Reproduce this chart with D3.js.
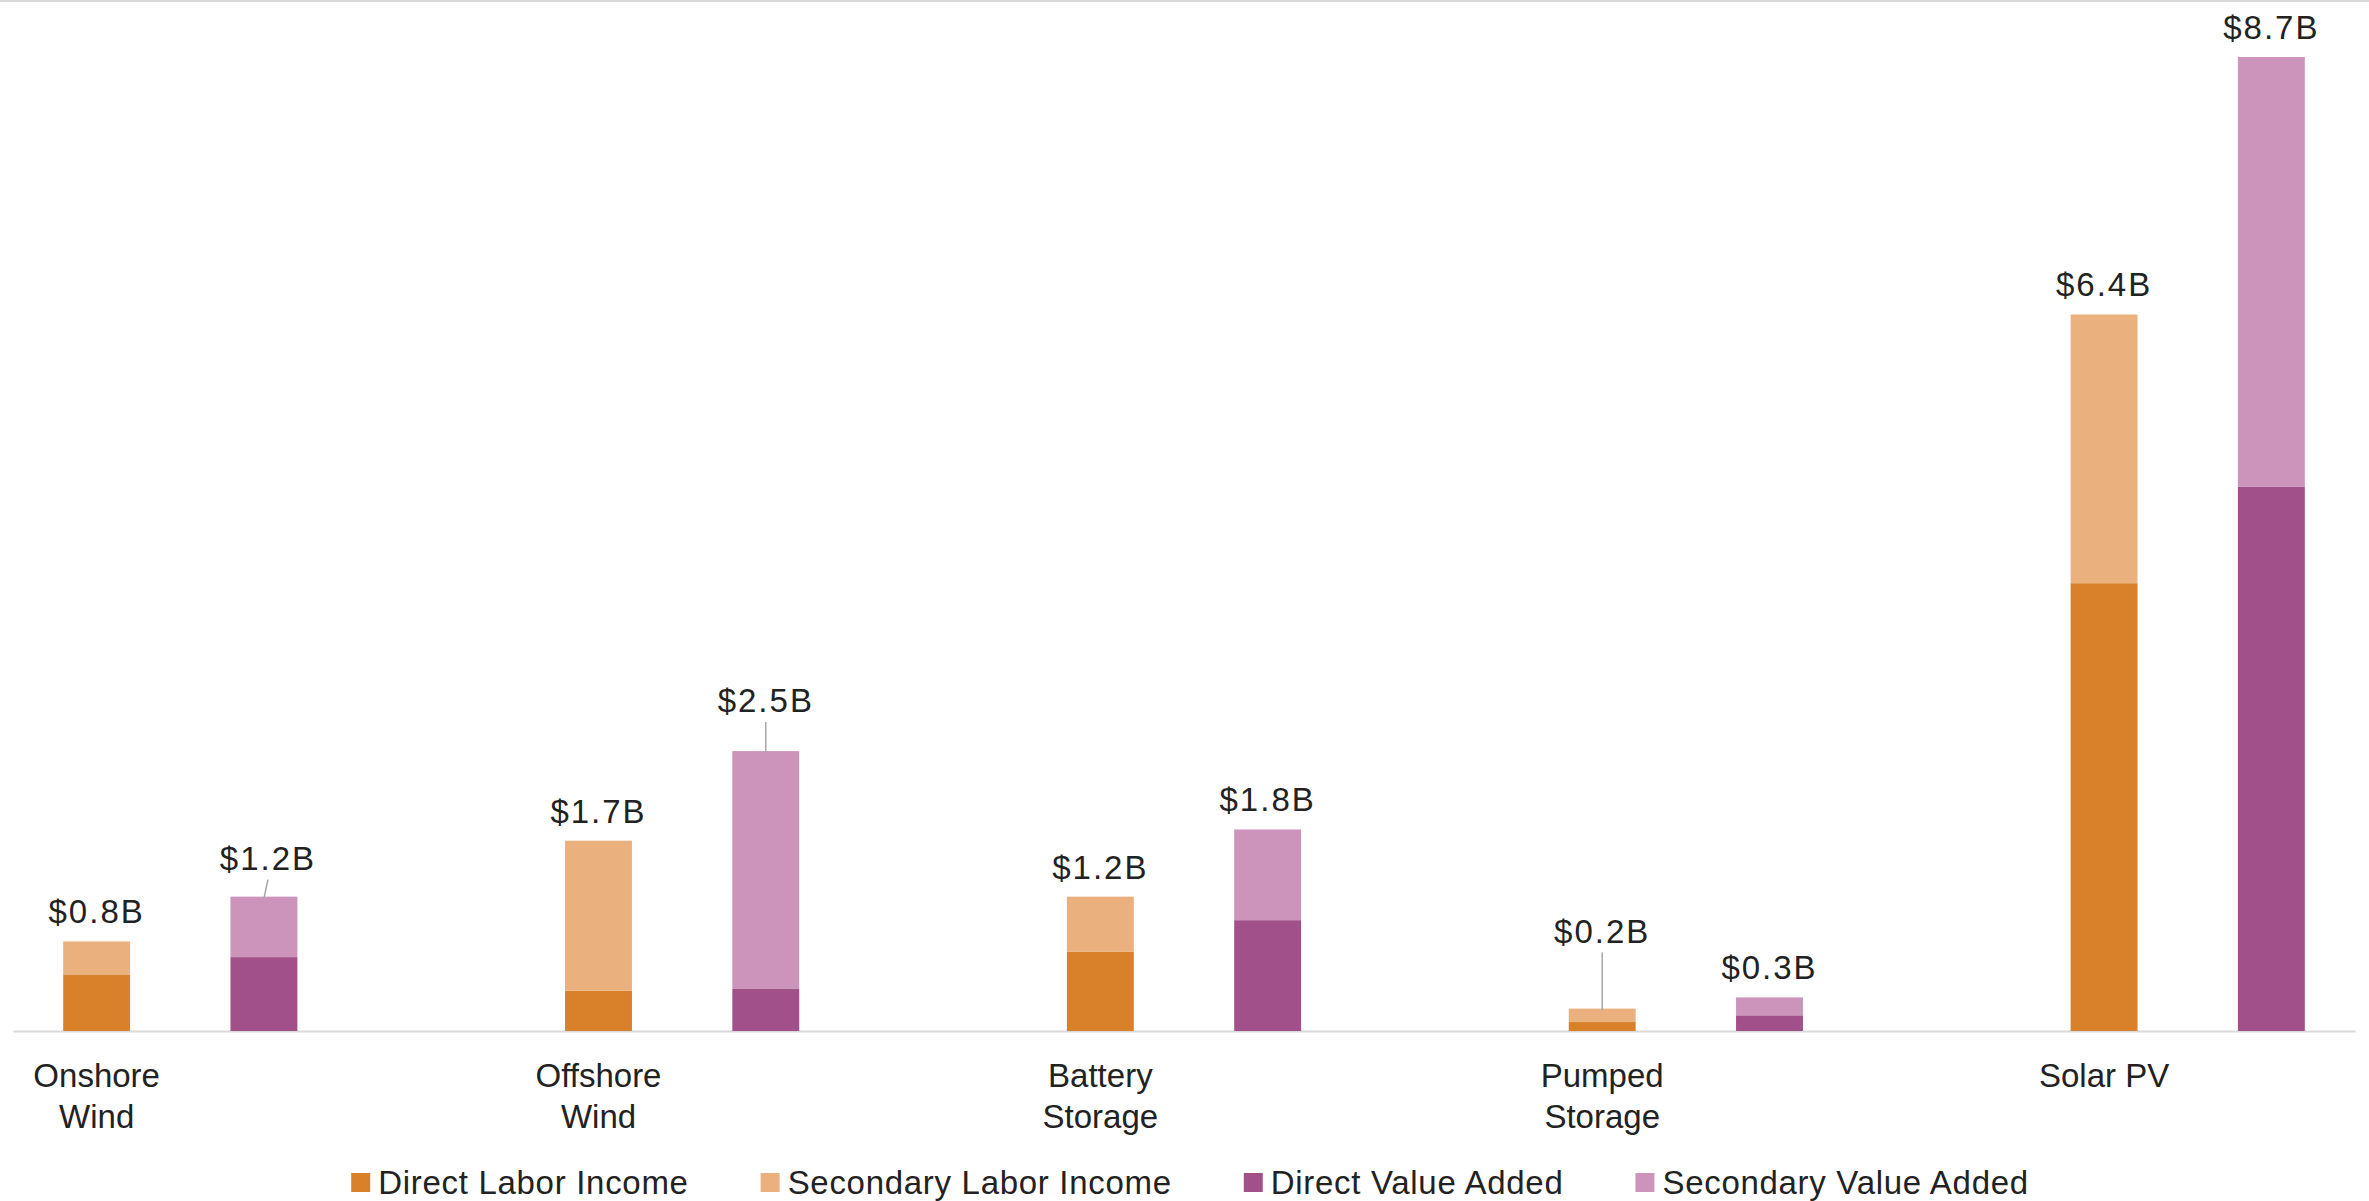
<!DOCTYPE html>
<html>
<head>
<meta charset="utf-8">
<script src="https://cdn.jsdelivr.net/npm/d3@7"></script>
<style>
  html, body { margin: 0; padding: 0; background: #ffffff; }
  svg { display: block; }
  text { font-family: "Liberation Sans", Arial, sans-serif; fill: #222222; }
</style>
</head>
<body>
<script>
// Economic impact by technology, in billions of dollars
const categories = ["Onshore Wind", "Offshore Wind", "Battery Storage", "Pumped Storage", "Solar PV"];
const seriesNames = ["Direct Labor Income", "Secondary Labor Income", "Direct Value Added", "Secondary Value Added"];
const directLabor    = [0.50, 0.36, 0.71, 0.08, 4.00];
const secondaryLabor = [0.30, 1.34, 0.49, 0.12, 2.40];
const directValue    = [0.66, 0.38, 0.99, 0.14, 4.86];
const secondaryValue = [0.54, 2.12, 0.81, 0.16, 3.84];

const colors = {
  "Direct Labor Income": "#D8802A",
  "Secondary Labor Income": "#EAB17E",
  "Direct Value Added": "#A25089",
  "Secondary Value Added": "#CC93BB"
};

const W = 2369, H = 1201;
const baseY = 1031, topY = 57;
const fontSize = 33;

const svg = d3.select("body").append("svg")
  .attr("width", W).attr("height", H)
  .attr("viewBox", `0 0 ${W} ${H}`);

svg.append("rect").attr("width", W).attr("height", H).attr("fill", "#ffffff");
svg.append("line")
  .attr("x1", 0).attr("x2", W).attr("y1", 1).attr("y2", 1)
  .attr("stroke", "#d9d9d9").attr("stroke-width", 2);

// One slot per column, with an empty slot separating technologies
const slots = [];
categories.forEach((c, i) => {
  slots.push(c + "|labor", c + "|value");
  if (i < categories.length - 1) slots.push(c + "|gap");
});

const rows = categories.flatMap((c, i) => [
  { slot: c + "|labor", cat: c,
    [seriesNames[0]]: directLabor[i], [seriesNames[1]]: secondaryLabor[i],
    [seriesNames[2]]: 0, [seriesNames[3]]: 0 },
  { slot: c + "|value", cat: c,
    [seriesNames[0]]: 0, [seriesNames[1]]: 0,
    [seriesNames[2]]: directValue[i], [seriesNames[3]]: secondaryValue[i] }
]);
const total = r => seriesNames.reduce((s, k) => s + r[k], 0);

const x = d3.scaleBand().domain(slots).range([13, 2355])
  .paddingInner(0.6).paddingOuter(0.3);
const y = d3.scaleLinear().domain([0, d3.max(rows, total)]).range([baseY, topY]);

// Category axis
const axis = svg.append("g")
  .attr("transform", `translate(0,${baseY})`)
  .call(d3.axisBottom(x)
    .tickValues(categories.map(c => c + "|labor"))
    .tickFormat(d => d.split("|")[0])
    .tickSize(0).tickSizeOuter(0));
axis.select(".domain").attr("stroke", "#d9d9d9").attr("stroke-width", 2);
axis.selectAll(".tick text")
  .attr("font-size", fontSize)
  .attr("font-family", "Liberation Sans, Arial, sans-serif")
  .attr("fill", "#222222")
  .each(function () {
    const t = d3.select(this);
    const words = t.text().split(" ");
    t.text(null).attr("y", 0).attr("dy", null);
    const lines = [];
    let line = [];
    const probe = t.append("tspan");
    words.forEach(w => {
      const trial = line.concat(w);
      probe.text(trial.join(" "));
      if (probe.node().getComputedTextLength() > x.step() && line.length) {
        lines.push(line.join(" "));
        line = [w];
      } else {
        line = trial;
      }
    });
    lines.push(line.join(" "));
    probe.remove();
    lines.forEach((ln, i) => {
      t.append("tspan").attr("x", 0).attr("y", 56 + i * 41).text(ln);
    });
  });

// Stacked columns
const stacked = d3.stack().keys(seriesNames)(rows);
svg.append("g").selectAll("g")
  .data(stacked).join("g")
  .attr("fill", d => colors[d.key])
  .selectAll("rect")
  .data(d => d.filter(p => p[1] > p[0]))
  .join("rect")
  .attr("x", d => x(d.data.slot))
  .attr("width", x.bandwidth())
  .attr("y", d => y(d[1]))
  .attr("height", d => y(d[0]) - y(d[1]));

// Total labels; a few are lifted clear of neighbours and tied back with a leader
const labelGap = 18;
const lifted = {
  "Onshore Wind|value": { lift: 9, dx: 4 },
  "Offshore Wind|value": { lift: 21, dx: 0 },
  "Pumped Storage|labor": { lift: 48, dx: 0 }
};
const fmt = d3.format(".1f");
const labels = svg.append("g");
rows.forEach(r => {
  const cx = x(r.slot) + x.bandwidth() / 2;
  const top = y(total(r));
  const spec = lifted[r.slot] || { lift: 0, dx: 0 };
  const by = top - labelGap - spec.lift;
  if (spec.lift > 0) {
    labels.append("line")
      .attr("x1", cx + spec.dx).attr("y1", by + 10)
      .attr("x2", cx).attr("y2", top + 2)
      .attr("stroke", "#a6a6a6").attr("stroke-width", 1.5);
  }
  labels.append("text")
    .attr("x", cx + spec.dx).attr("y", by)
    .attr("text-anchor", "middle")
    .attr("font-size", fontSize)
    .attr("letter-spacing", "2px")
    .text("$" + fmt(total(r)) + "B");
});

// Legend
const legend = svg.append("g");
let lx = 0;
seriesNames.forEach(name => {
  const item = legend.append("g").attr("transform", `translate(${lx},0)`);
  item.append("rect")
    .attr("x", 0).attr("y", 1173).attr("width", 19).attr("height", 19)
    .attr("fill", colors[name]);
  const t = item.append("text")
    .attr("x", 27).attr("y", 1194)
    .attr("font-size", fontSize)
    .attr("letter-spacing", "0.7px")
    .text(name);
  lx += 27 + t.node().getComputedTextLength() + 72;
});
const legendWidth = lx - 72;
legend.attr("transform", `translate(${1190 - legendWidth / 2},0)`);
</script>
</body>
</html>
